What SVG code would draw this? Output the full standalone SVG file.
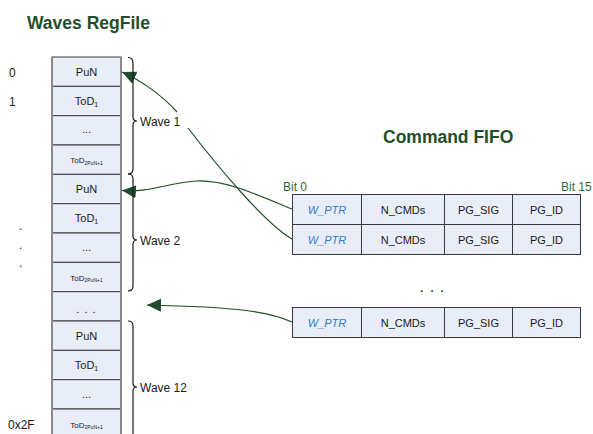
<svg xmlns="http://www.w3.org/2000/svg" width="593" height="434" viewBox="0 0 593 434">
<style>
.cell{fill:#E9EDF7;stroke:#3a3a3a;stroke-width:1}
.t{font-family:"Liberation Sans",Arial,sans-serif;font-size:11px;fill:#1a1a1a;text-anchor:middle}
.s{font-family:"Liberation Sans",Arial,sans-serif;font-size:8px;fill:#1a1a1a;text-anchor:middle}
.title{font-family:"Liberation Sans",Arial,sans-serif;font-size:17.5px;font-weight:bold;fill:#1F4E2C}
.lbl{font-family:"Liberation Sans",Arial,sans-serif;font-size:12px;fill:#1a1a1a}
.bit{font-family:"Liberation Sans",Arial,sans-serif;font-size:12px;fill:#2E6B3A}
.wp{font-family:"Liberation Sans",Arial,sans-serif;font-size:11px;font-style:italic;fill:#2A7FD0;text-anchor:middle}
.brace{fill:none;stroke:#1a1a1a;stroke-width:1.2}
.conn{fill:none;stroke:#1E4D2B;stroke-width:1.2}
</style>
<defs>
<marker id="ah" markerUnits="userSpaceOnUse" markerWidth="16" markerHeight="14" refX="14" refY="6.5" orient="auto">
<path d="M0,0 L14,6.5 L0,13 Z" fill="#1E4D2B"/>
</marker>
</defs>
<rect width="593" height="434" fill="#fff"/>
<text class="title" x="27" y="29">Waves RegFile</text>
<text class="title" x="383" y="143">Command FIFO</text>

<g id="regfile">
<rect class="cell" x="52" y="57" width="69" height="29.33"/>
<rect class="cell" x="52" y="86.33" width="69" height="29.33"/>
<rect class="cell" x="52" y="115.67" width="69" height="29.33"/>
<rect class="cell" x="52" y="145" width="69" height="29.33"/>
<rect class="cell" x="52" y="174.33" width="69" height="29.33"/>
<rect class="cell" x="52" y="203.67" width="69" height="29.33"/>
<rect class="cell" x="52" y="233" width="69" height="29.33"/>
<rect class="cell" x="52" y="262.33" width="69" height="29.33"/>
<rect class="cell" x="52" y="291.67" width="69" height="29.33"/>
<rect class="cell" x="52" y="321" width="69" height="29.33"/>
<rect class="cell" x="52" y="350.33" width="69" height="29.33"/>
<rect class="cell" x="52" y="379.67" width="69" height="29.33"/>
<rect class="cell" x="52" y="409" width="69" height="29.33"/>
<line x1="52" y1="57" x2="52" y2="434" stroke="#8a8a8a" stroke-width="2"/>
<line x1="121" y1="57" x2="121" y2="434" stroke="#8a8a8a" stroke-width="2"/>
<text class="t" x="86.5" y="75.5">PuN</text>
<text class="t" x="86.5" y="104.5">ToD<tspan font-size="7" dy="2">1</tspan></text>
<text class="t" x="86.5" y="133">...</text>
<text class="s" x="86.5" y="163">ToD<tspan font-size="5" dy="1.5">2PuN+1</tspan></text>
<text class="t" x="86.5" y="193">PuN</text>
<text class="t" x="86.5" y="222">ToD<tspan font-size="7" dy="2">1</tspan></text>
<text class="t" x="86.5" y="251">...</text>
<text class="s" x="86.5" y="280.5">ToD<tspan font-size="5" dy="1.5">2PuN+1</tspan></text>
<text class="t" x="86.5" y="313" font-size="13" letter-spacing="1">. . .</text>
<text class="t" x="86.5" y="339.5">PuN</text>
<text class="t" x="86.5" y="368.5">ToD<tspan font-size="7" dy="2">1</tspan></text>
<text class="t" x="86.5" y="398">...</text>
<text class="s" x="86.5" y="427.5">ToD<tspan font-size="5" dy="1.5">2PuN+1</tspan></text>
</g>

<g id="indices">
<text class="lbl" x="9" y="77" font-size="13">0</text>
<text class="lbl" x="9" y="106" font-size="13">1</text>
<text class="lbl" x="19" y="230">.</text>
<text class="lbl" x="19" y="249">.</text>
<text class="lbl" x="19" y="267">.</text>
<text class="lbl" x="8" y="429" font-size="11.5">0x2F</text>
</g>

<g id="connectors">
<path class="conn" d="M292,239 C265,224 215,163 188,128" />
<path class="conn" d="M177,112 C162,95 140,80 122,72" marker-end="url(#ah)"/>
<path class="conn" d="M292,209 C262,197 228,180 197,181 C170,182 150,193 122,190.5" marker-end="url(#ah)"/>
<path class="conn" d="M292,322 C270,312 240,307 147,305" marker-end="url(#ah)"/>
</g>

<g id="braces">
<path class="brace" d="M128,57.5 Q133,57.5 133,63 L133,117 Q133,121 137,121 Q133,121 133,125 L133,169 Q133,174 128,174"/>
<path class="brace" d="M128,174 Q133,174 133,179 L133,236 Q133,240 137,240 Q133,240 133,244 L133,286 Q133,291 128,291"/>
<path class="brace" d="M128,321 Q133,321 133,326 L133,383 Q133,387 137,387 Q133,387 133,391 L133,434"/>
<text class="lbl" x="140" y="126" font-size="14.5">Wave 1</text>
<text class="lbl" x="140" y="245" font-size="14.5">Wave 2</text>
<text class="lbl" x="140" y="392" font-size="14.5">Wave 12</text>
</g>

<g id="fifo">
<text class="bit" x="283" y="191">Bit 0</text>
<text class="bit" x="561" y="191" font-size="11.5">Bit 15</text>
<rect class="cell" x="292.5" y="194.5" width="69" height="30"/>
<rect class="cell" x="361.5" y="194.5" width="83" height="30"/>
<rect class="cell" x="444.5" y="194.5" width="68" height="30"/>
<rect class="cell" x="512.5" y="194.5" width="68" height="30"/>
<rect class="cell" x="292.5" y="224.5" width="69" height="30"/>
<rect class="cell" x="361.5" y="224.5" width="83" height="30"/>
<rect class="cell" x="444.5" y="224.5" width="68" height="30"/>
<rect class="cell" x="512.5" y="224.5" width="68" height="30"/>
<text class="wp" x="327" y="213.5">W_PTR</text>
<text class="t" x="403" y="213.5" font-size="12">N_CMDs</text>
<text class="t" x="478.5" y="213.5">PG_SIG</text>
<text class="t" x="546.5" y="213.5">PG_ID</text>
<text class="wp" x="327" y="243.5">W_PTR</text>
<text class="t" x="403" y="243.5" font-size="12">N_CMDs</text>
<text class="t" x="478.5" y="243.5">PG_SIG</text>
<text class="t" x="546.5" y="243.5">PG_ID</text>
<text class="t" x="433" y="292" font-size="16" font-weight="bold" fill="#1E3B28" letter-spacing="2">. . .</text>
<rect class="cell" x="292.5" y="307.5" width="69" height="30"/>
<rect class="cell" x="361.5" y="307.5" width="83" height="30"/>
<rect class="cell" x="444.5" y="307.5" width="68" height="30"/>
<rect class="cell" x="512.5" y="307.5" width="68" height="30"/>
<text class="wp" x="327" y="326.5">W_PTR</text>
<text class="t" x="403" y="326.5" font-size="12">N_CMDs</text>
<text class="t" x="478.5" y="326.5">PG_SIG</text>
<text class="t" x="546.5" y="326.5">PG_ID</text>
</g>
</svg>
